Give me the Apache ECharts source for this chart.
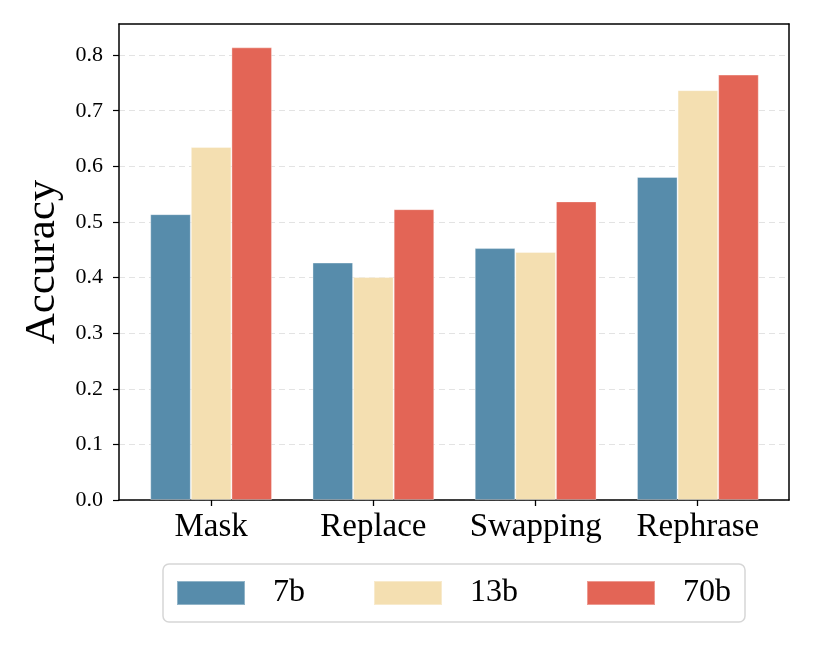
<!DOCTYPE html>
<html>
<head>
<meta charset="utf-8">
<script src="https://cdn.jsdelivr.net/npm/echarts@6/dist/echarts.min.js"></script>
<style>html,body{margin:0;padding:0;background:#fff;}#c{width:814px;height:651px;}</style>
</head>
<body>
<div id="c"></div>
<script>
const categories = ['Mask', 'Replace', 'Swapping', 'Rephrase'];
const seriesNames = ['7b', '13b', '70b'];
const v7b = [0.514, 0.427, 0.453, 0.581];
const v13b = [0.635, 0.401, 0.446, 0.737];
const v70b = [0.814, 0.523, 0.537, 0.765];
const yTicks = [0.0, 0.1, 0.2, 0.3, 0.4, 0.5, 0.6, 0.7, 0.8];
const colors = ['#578CAB', '#F4DFB1', '#E36556'];

const chart = echarts.init(document.getElementById('c'), null, {renderer: 'canvas'});
const font = '"Liberation Serif", "DejaVu Serif", serif';
const values = [v7b, v13b, v70b];
const catIdx = categories.map((c, i) => i);
const yMax = 0.856;
const xPad = 0.567;
const frameLine = {show: true, onZero: false, lineStyle: {color: '#000', width: 1.5}};
chart.setOption({
  animation: false,
  backgroundColor: '#fff',
  textStyle: {fontFamily: font},
  grid: [
    {left: 119, right: 25, top: 24, bottom: 151},
    {left: 130, right: 35, top: 24, bottom: 151}
  ],
  legend: {
    data: seriesNames,
    left: 163, top: 564,
    itemWidth: 68, itemHeight: 24, itemGap: 68,
    padding: [13, 14, 13, 13],
    borderColor: '#d6d6d6', borderWidth: 1.5, borderRadius: 6,
    textStyle: {fontFamily: font, fontSize: 32, color: '#000', padding: [0, 0, 0, 23]},
    icon: 'rect'
  },
  xAxis: [
    {
      type: 'value', gridIndex: 0, min: -xPad, max: categories.length - 1 + xPad, position: 'bottom',
      axisLine: frameLine,
      axisTick: {show: true, customValues: catIdx, length: 6, lineStyle: {color: '#000', width: 1.3}},
      axisLabel: {show: true, customValues: catIdx, formatter: () => ''},
      splitLine: {show: false}
    },
    {type: 'category', gridIndex: 0, data: categories, position: 'top', axisLine: frameLine, axisTick: {show: false}, axisLabel: {show: false}, splitLine: {show: false}},
    {
      type: 'category', gridIndex: 1, data: categories, position: 'bottom',
      axisLine: {show: false, onZero: false},
      axisTick: {show: false},
      axisLabel: {fontFamily: font, fontSize: 33, color: '#000', margin: 11, interval: 0},
      splitLine: {show: false}
    }
  ],
  yAxis: [
    {
      type: 'value', gridIndex: 0, min: 0, max: yMax, interval: 0.1,
      name: 'Accuracy', nameLocation: 'middle', nameGap: 50,
      nameTextStyle: {fontFamily: font, fontSize: 43, color: '#000'},
      axisLine: frameLine,
      axisTick: {show: true, length: 6, customValues: yTicks, lineStyle: {color: '#000', width: 1.2}},
      axisLabel: {fontFamily: font, fontSize: 22, color: '#000', margin: 16, customValues: yTicks, formatter: v => v.toFixed(1)},
      splitLine: {show: true, lineStyle: {color: '#e3e3e3', type: [6, 4], width: 1.2}}
    },
    {type: 'value', gridIndex: 0, min: 0, max: yMax, position: 'right', axisLine: frameLine, axisTick: {show: false}, axisLabel: {show: false}, splitLine: {show: false}},
    {type: 'value', gridIndex: 1, min: 0, max: yMax, show: false, splitLine: {show: false}}
  ],
  series: seriesNames.map((n, i) => ({
    name: n, type: 'bar', data: values[i],
    xAxisIndex: 2, yAxisIndex: 2,
    barWidth: 40.6, barGap: '0%',
    itemStyle: {color: colors[i], borderColor: 'rgba(255,255,255,0.35)', borderWidth: 1}
  }))
});
</script>
</body>
</html>
